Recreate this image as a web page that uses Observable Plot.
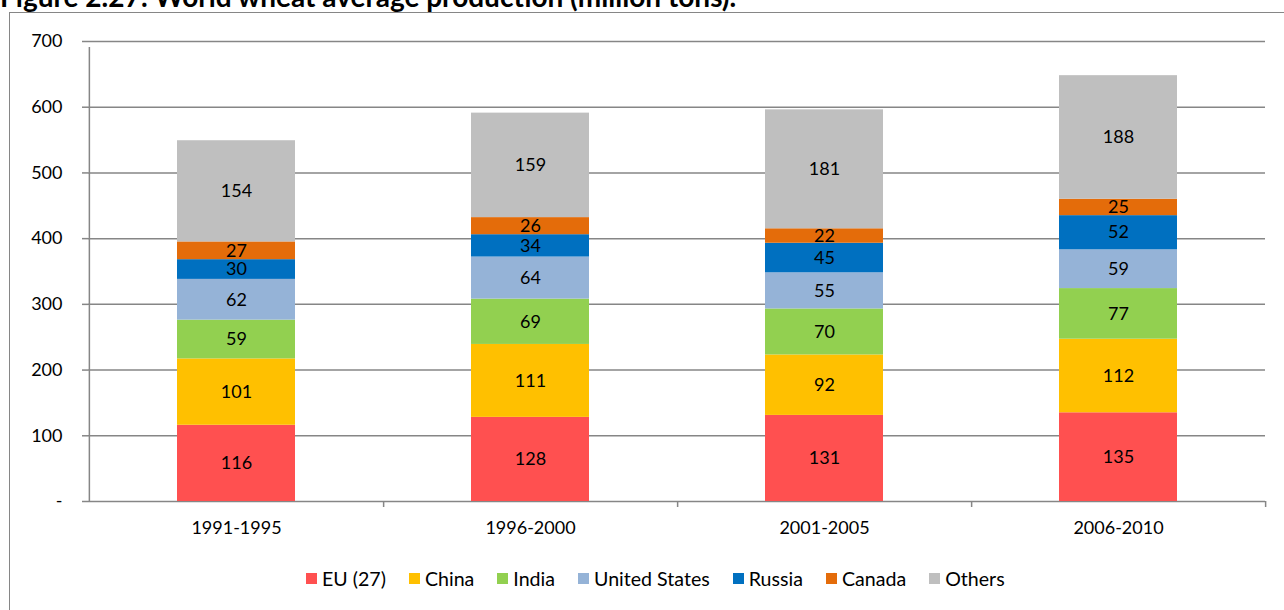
<!DOCTYPE html>
<html>
<head>
<meta charset="utf-8">
<script src="https://cdn.jsdelivr.net/npm/d3@7"></script>
<script src="https://cdn.jsdelivr.net/npm/@observablehq/plot@0.6"></script>
<style>
  html, body { margin: 0; padding: 0; background: #fff; overflow: hidden; }
  body { width: 1284px; height: 610px; position: relative; font-family: Lato, "Open Sans", sans-serif; }
  #title { position: absolute; left: 0; top: -18px; font-weight: bold; font-size: 28px; line-height: 28px; white-space: nowrap; color: #000; }
  #frame { position: absolute; left: 9px; top: 12px; width: 1280px; height: 640px; border: 1px solid #868686; box-sizing: border-box; }
  #chart { position: absolute; left: 0; top: 0; }
  #legend { position: absolute; left: 306px; top: 566px; height: 24px; display: flex; align-items: center; font-size: 19.6px; color: #000; white-space: nowrap; }
  #legend .item { display: flex; align-items: center; margin-right: 23px; }
  #legend .sw { width: 11px; height: 11px; margin-right: 5px; }
</style>
</head>
<body>
<div id="title">Figure 2.27: World wheat average production (million tons).</div>
<div id="frame"></div>
<div id="chart"></div>
<div id="legend"></div>
<script>
const periods = ["1991-1995", "1996-2000", "2001-2005", "2006-2010"];
const series = ["EU (27)", "China", "India", "United States", "Russia", "Canada", "Others"];
const colors = ["#FF5050", "#FFC000", "#92D050", "#95B3D7", "#0070C0", "#E46C0A", "#BFBFBF"];
const euValues     = [116, 128, 131, 135];
const chinaValues  = [101, 111, 92, 112];
const indiaValues  = [59, 69, 70, 77];
const usValues     = [62, 64, 55, 59];
const russiaValues = [30, 34, 45, 52];
const canadaValues = [27, 26, 22, 25];
const othersValues = [154, 159, 181, 188];
const yTicks = [0, 100, 200, 300, 400, 500, 600, 700];

const seriesValues = [euValues, chinaValues, indiaValues, usValues, russiaValues, canadaValues, othersValues];
const data = [];
series.forEach((s, si) => periods.forEach((p, pi) => data.push({period: p, series: s, value: seriesValues[si][pi]})));

const W = 1284, H = 550, ml = 88, mr = 19, mt = 41, mb = 49;
const step = (W - ml - mr) / periods.length;
const grid = "#868686";

const chart = Plot.plot({
  width: W, height: H,
  marginLeft: ml, marginRight: mr, marginTop: mt, marginBottom: mb,
  style: {fontFamily: "Lato, 'Open Sans', sans-serif", fontSize: "18px", color: "#000", background: "transparent"},
  x: {domain: periods, paddingInner: 0.6, paddingOuter: 0.3, label: null},
  y: {domain: [0, 700], label: null},
  color: {domain: series, range: colors},
  marks: [
    Plot.ruleY(yTicks, {y: d => d, stroke: grid, strokeWidth: 1.5}),
    Plot.barY(data, Plot.stackY({x: "period", y: "value", fill: "series", order: series})),
    Plot.text(data, Plot.stackY({x: "period", y: "value", z: "series", order: series, text: d => String(d.value), fill: "#000", fontSize: 18})),
    Plot.ruleX([0], {x: () => periods[0], dx: -step / 2, y1: 0, y2: 700, insetBottom: -6, stroke: grid, strokeWidth: 1.5}),
    Plot.ruleX(periods, {x: d => d, dx: step / 2, y1: 0, y2: 0, insetBottom: -6, stroke: grid, strokeWidth: 1.5}),
    Plot.axisY({ticks: yTicks, tickSize: 6, tickPadding: 20, stroke: grid, strokeWidth: 1.5, tickFormat: d => d === 0 ? "-" : String(d), fill: "#000", label: null}),
    Plot.axisX({tickSize: 0, tickPadding: 20, fill: "#000", label: null})
  ]
});
document.getElementById("chart").appendChild(chart);

const legend = document.getElementById("legend");
series.forEach((s, i) => {
  const item = document.createElement("div");
  item.className = "item";
  const sw = document.createElement("div");
  sw.className = "sw";
  sw.style.background = colors[i];
  const t = document.createElement("span");
  t.textContent = s;
  item.appendChild(sw); item.appendChild(t);
  legend.appendChild(item);
});
</script>
</body>
</html>
